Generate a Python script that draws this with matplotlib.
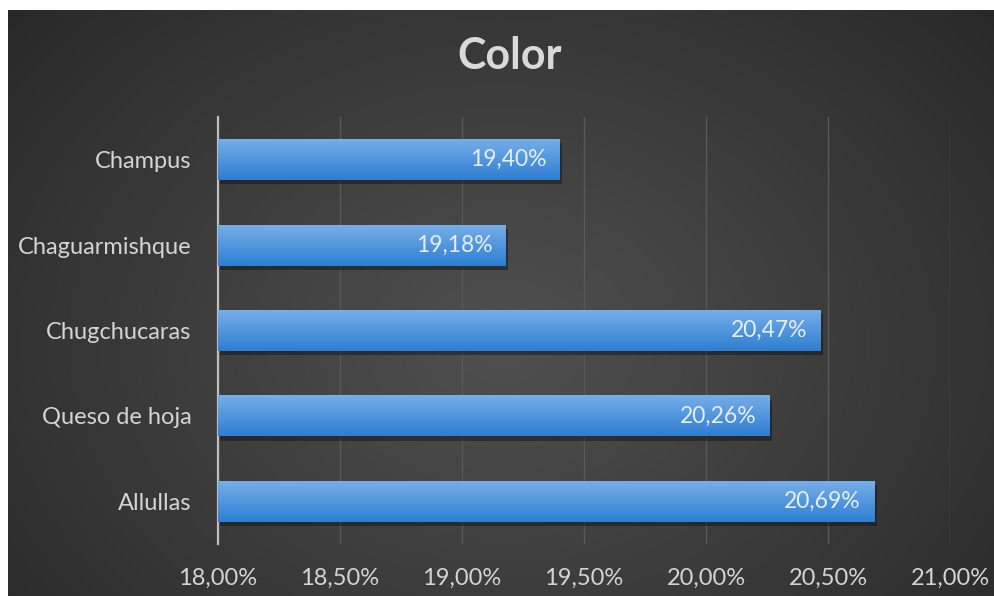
import numpy as np
import matplotlib
matplotlib.use("Agg")
import matplotlib.pyplot as plt
from matplotlib.ticker import FuncFormatter

plt.rcParams['font.family'] = ['Lato', 'DejaVu Sans']

categories = ["Allullas", "Queso de hoja", "Chugchucaras", "Chaguarmishque", "Champus"]
values = [20.69, 20.26, 20.47, 19.18, 19.40]
title = "Color"

W, H = 995, 596
fig = plt.figure(figsize=(W / 100, H / 100), dpi=100, facecolor="white")

# dark panel with radial gradient
bg = fig.add_axes([8 / W, 0, 1 - 8 / W, 1 - 10 / H])
bg.set_axis_off()
yy, xx = np.mgrid[0:300, 0:500]
cx, cy = 250, 170
r = np.sqrt(((xx - cx) / 330.0) ** 2 + ((yy - cy) / 260.0) ** 2)
r = np.clip(r, 0, 1)
c0 = np.array([0x50, 0x50, 0x50]) / 255
c1 = np.array([0x29, 0x29, 0x29]) / 255
img = c0[None, None, :] * (1 - r[..., None]) + c1[None, None, :] * r[..., None]
bg.imshow(img, aspect="auto", extent=[0, 1, 0, 1], interpolation="bilinear")
bg.set_xlim(0, 1)
bg.set_ylim(0, 1)

# plot area
x0, x1 = 218, 950
y0, y1 = 117, 544
ax = fig.add_axes([x0 / W, 1 - y1 / H, (x1 - x0) / W, (y1 - y0) / H])
ax.patch.set_alpha(0)
ax.set_xlim(18.0, 21.0)
ax.set_ylim(-0.5, len(categories) - 0.5)

ax.set_xticks(np.arange(18.0, 21.01, 0.5))
ax.xaxis.set_major_formatter(FuncFormatter(lambda v, p: f"{v:.2f}%".replace(".", ",")))
ax.grid(axis="x", color="#585858", linewidth=1.0)
ax.set_axisbelow(True)
for s in ["top", "right", "bottom"]:
    ax.spines[s].set_visible(False)
ax.spines["left"].set_color("#bdbdbd")
ax.spines["left"].set_linewidth(1.6)
ax.tick_params(axis="both", length=0, colors="#d4d4d4", labelsize=17)
ax.tick_params(axis="x", pad=17)
ax.tick_params(axis="y", pad=19)

ypos = np.arange(len(categories))
bar_h = 0.48
base = 18.0
# shadow
ax.barh(ypos - 0.05, np.array(values) - base, left=base + 0.01, height=bar_h,
        color="#151515", alpha=0.5, zorder=2)
bars = ax.barh(ypos, np.array(values) - base, left=base, height=bar_h,
               color="#4a90dc", zorder=3)

grad = np.linspace(0, 1, 100)[:, None]
top = np.array([0x76, 0xae, 0xe8]) / 255
bot = np.array([0x2e, 0x7e, 0xd2]) / 255
gimg = top[None, None, :] * (1 - grad[..., None]) + bot[None, None, :] * grad[..., None]
gimg = np.repeat(gimg, 2, axis=1)
for b in bars:
    x, y = b.get_x(), b.get_y()
    w, h = b.get_width(), b.get_height()
    im = ax.imshow(gimg, extent=[x, x + w, y, y + h], aspect="auto", zorder=4,
                   interpolation="bilinear", origin="upper")
    im.set_clip_path(b)
ax.set_xlim(18.0, 21.0)
ax.set_ylim(-0.5, len(categories) - 0.5)

for yv, v in zip(ypos, values):
    ax.text(v - 0.055, yv, f"{v:.2f}%".replace(".", ","), ha="right", va="center",
            color="#e6eef8", fontsize=16.5, zorder=5)

ax.set_yticks(ypos)
ax.set_yticklabels(categories)

fig.text(510 / W, 1 - 56 / H, title, ha="center", va="center", color="#d9d9d9",
         fontsize=31, fontweight="bold")

fig.savefig("out.png", dpi=100, facecolor="white")
